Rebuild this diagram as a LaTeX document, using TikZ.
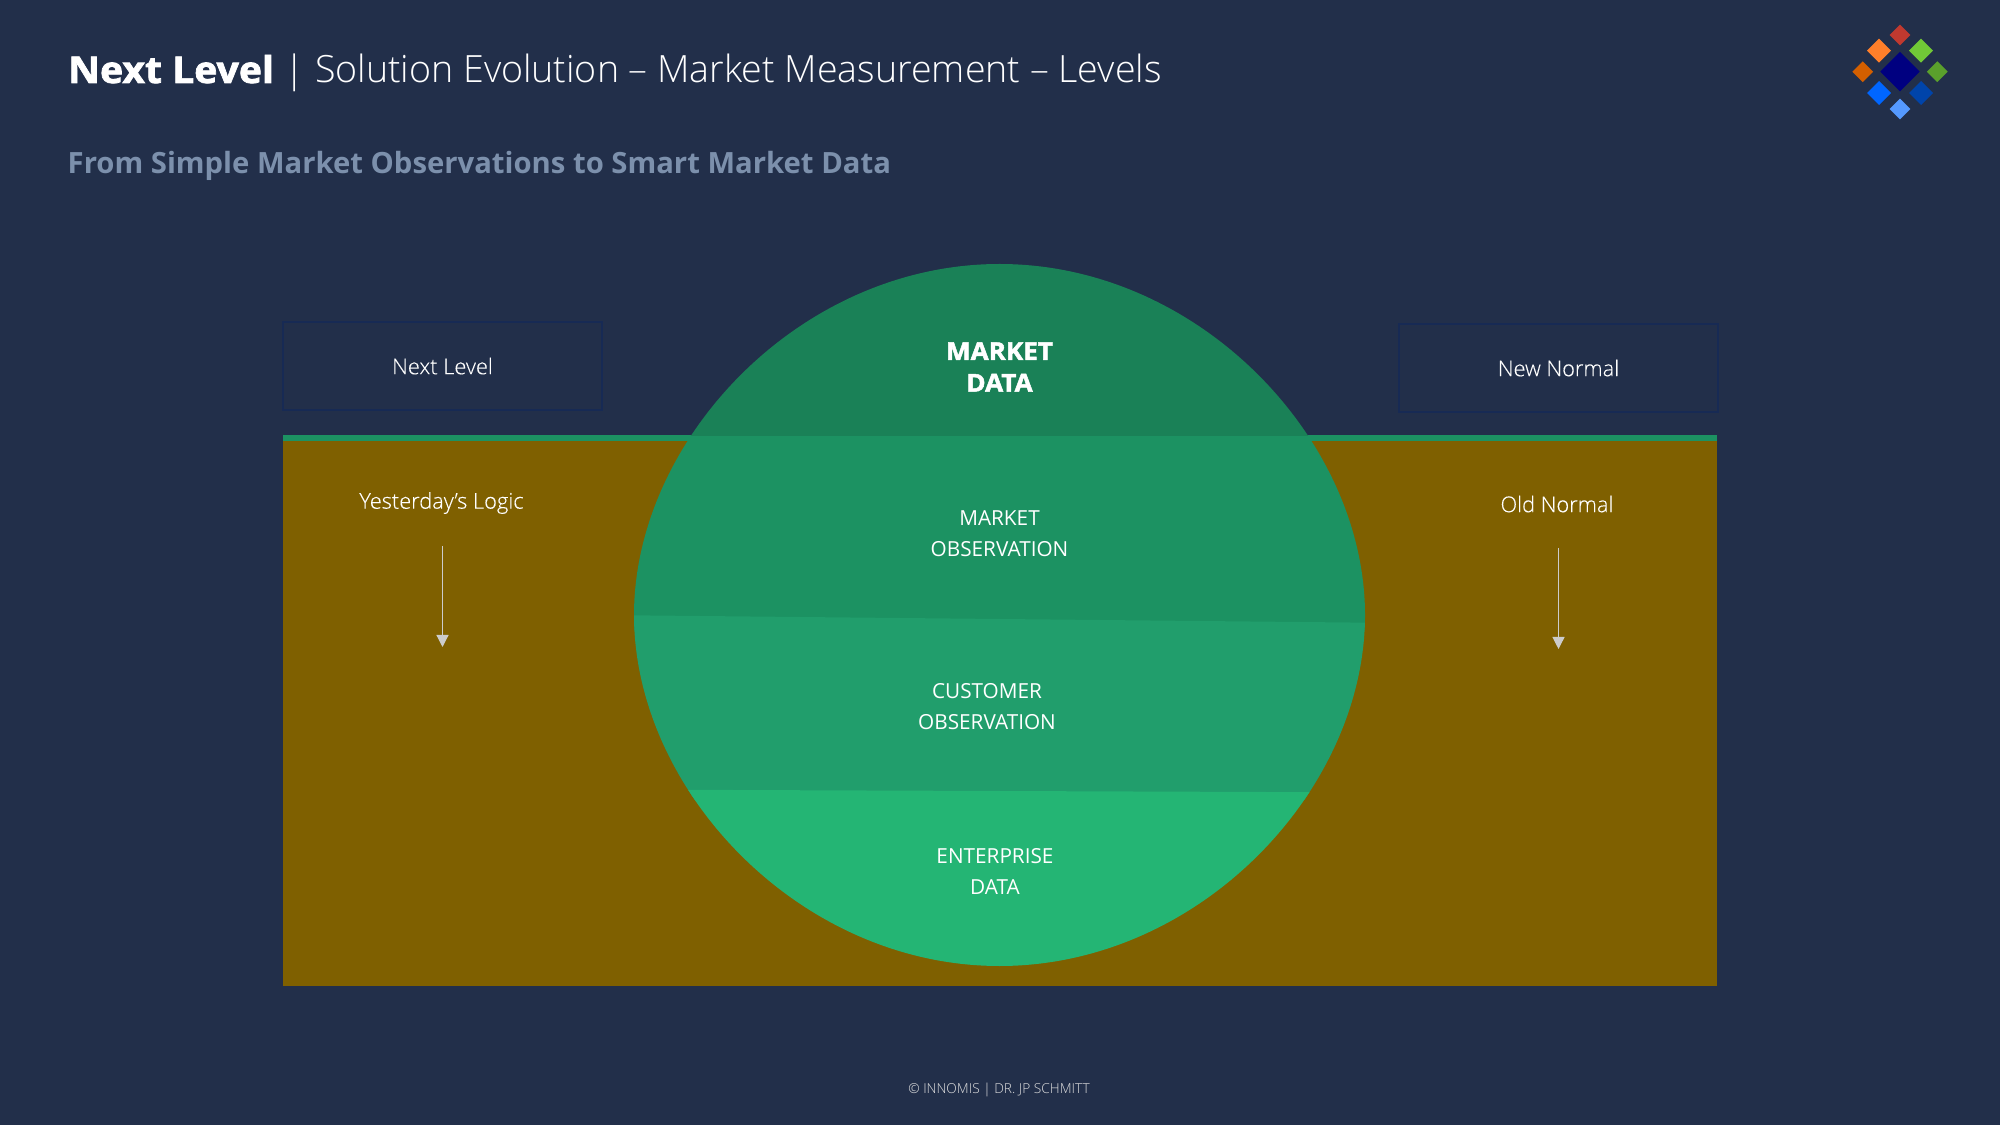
\documentclass[tikz,border=0pt]{standalone}
\usepackage{xcolor}
\usepackage{fontspec}
\usepackage{tikz}
\usetikzlibrary{shapes.geometric, arrows.meta, positioning}
\setmainfont{Open Sans}
\newfontfamily\lightfont{Open Sans Light}
\newfontfamily\sidefont[FakeBold=0.2]{Open Sans Light}
\newfontfamily\heavyfont[FakeBold=2, FakeStretch=1.06]{Open Sans Bold}
\definecolor{pagebg}{HTML}{222F4A}
\definecolor{soilbrown}{HTML}{7F6000}
\definecolor{lineblue}{HTML}{172A54}
\definecolor{bandone}{HTML}{1A8157}
\definecolor{bandtwo}{HTML}{1C9262}
\definecolor{bandthree}{HTML}{219E6C}
\definecolor{bandfour}{HTML}{24B574}
\definecolor{subgrey}{HTML}{7C90AC}
\tikzstyle{tagbox} = [rectangle, draw=lineblue, line width=0.02cm, minimum width=3.18cm, minimum height=0.88cm, text=white, inner sep=0pt, font=\sidefont\fontsize{6.2}{8}\selectfont]
\tikzstyle{sidetext} = [text=white, inner sep=0pt, font=\sidefont\fontsize{6.2}{8}\selectfont]
\tikzstyle{titletext} = [anchor=base west, inner sep=0pt, text=white]
\tikzstyle{bandtext} = [text=white, inner sep=0pt, align=center, font=\fontsize{5.9}{8.8}\selectfont]
\tikzstyle{downarrow} = [draw=black!20, line width=0.012cm, -{Triangle[length=0.12cm, width=0.12cm]}]
\tikzstyle{gem} = [diamond, aspect=1, inner sep=0pt, minimum size=0.214cm]
\tikzstyle{biggem} = [gem, minimum size=0.246cm]
\begin{document}
\begin{tikzpicture}[x=0.01cm, y=-0.01cm]
        \fill[pagebg] (0,0) rectangle (2000,1125);

        \node[titletext, font=\heavyfont\fontsize{10.5}{14}\selectfont] (title) at (67.5,83) {Next Level};
        \node[titletext, font=\lightfont\fontsize{10.68}{14}\selectfont] (titlebar) at (284,83) {|};
        \node[titletext, font=\lightfont\fontsize{10.68}{14}\selectfont] (titlerest) at (314.5,83) {Solution Evolution – Market Measurement – Levels};
        \node[anchor=base west, inner sep=0pt, text=subgrey, font=\bfseries\fontsize{8.32}{10}\selectfont] (subtitle) at (67,174) {From Simple Market Observations to Smart Market Data};

        \node[gem, fill={rgb,255:red,192;green,57;blue,47}] (gemred) at (1900,35) {};
        \node[biggem, fill={rgb,255:red,255;green,127;blue,42}] (gemorange) at (1879,50.7) {};
        \node[biggem, fill={rgb,255:red,113;green,200;blue,55}] (gemgreen) at (1921,50.7) {};
        \node[gem, fill={rgb,255:red,0;green,0;blue,128}, minimum size=0.4cm] (gemnavy) at (1900,71.7) {};
        \node[gem, fill={rgb,255:red,212;green,95;blue,0}] (gemrust) at (1862.7,71.7) {};
        \node[gem, fill={rgb,255:red,90;green,160;blue,44}] (gemleaf) at (1937.3,71.7) {};
        \node[biggem, fill={rgb,255:red,0;green,102;blue,255}] (gemblue) at (1879,93) {};
        \node[biggem, fill={rgb,255:red,0;green,68;blue,170}] (gemdeep) at (1921,93) {};
        \node[gem, fill={rgb,255:red,85;green,153;blue,255}] (gemsky) at (1900,109) {};

        \node[tagbox] (nextbox) at (442.5,366) {Next Level};
        \node[tagbox] (newbox) at (1558.5,368) {New Normal};

        \fill[soilbrown] (283,436) rectangle (1717,986);
        \fill[bandtwo] (283,435) rectangle (1717,441);

        \begin{scope}
            \clip (1365,615) .. controls (1365,440) and (1199.5,264) .. (999.5,264)
                .. controls (799.5,264) and (634,440) .. (634,615)
                .. controls (634,790) and (799.5,966) .. (999.5,966)
                .. controls (1199.5,966) and (1365,790) .. (1365,615) -- cycle;
            \fill[bandone] (600,250) rectangle (1400,436);
            \fill[bandtwo] (600,436) rectangle (1400,630);
            \fill[bandthree] (600,615) -- (1400,623) -- (1400,800) -- (600,800) -- cycle;
            \fill[bandfour] (600,789.5) -- (1400,792.5) -- (1400,980) -- (600,980) -- cycle;
        \end{scope}

        \node[bandtext, font=\heavyfont\fontsize{7}{9}\selectfont] (marketdata) at (999.5,367) {MARKET\\DATA};
        \node[bandtext] (marketobs) at (999.5,534) {MARKET\\OBSERVATION};
        \node[bandtext] (customerobs) at (987,707) {CUSTOMER\\OBSERVATION};
        \node[bandtext] (enterprise) at (995,871.5) {ENTERPRISE\\DATA};

        \node[sidetext] (yesterday) at (441.5,503) {Yesterday’s Logic};
        \node[sidetext] (oldnormal) at (1557,504) {Old Normal};
        \coordinate (yesterdayfrom) at (442.5,546);
        \coordinate (yesterdayto) at (442.5,647);
        \coordinate (oldfrom) at (1558.5,548);
        \coordinate (oldto) at (1558.5,649);
        \draw[downarrow] (yesterdayfrom) -- (yesterdayto);
        \draw[downarrow] (oldfrom) -- (oldto);

        \node[inner sep=0pt, text=white!88!black, font=\lightfont\fontsize{3.9}{5}\selectfont] (footer) at (999,1089.5) {© INNOMIS | DR. JP SCHMITT};
    \end{tikzpicture}
\end{document}
